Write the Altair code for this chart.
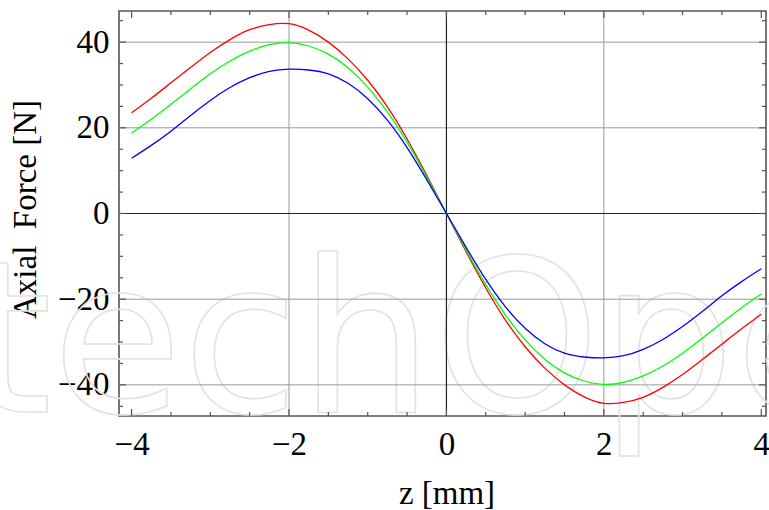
import altair as alt
import pandas as pd

# ---- data ----
z = [-4.0, -3.75, -3.5, -3.25, -3.0, -2.75, -2.5, -2.25, -2.0, -1.75, -1.5, -1.25,
     -1.0, -0.75, -0.5, -0.25, 0.0, 0.25, 0.5, 0.75, 1.0, 1.25, 1.5, 1.75,
     2.0, 2.25, 2.5, 2.75, 3.0, 3.25, 3.5, 3.75, 4.0]
red = [23.5, 26.9, 30.5, 34.1, 37.6, 40.6, 42.9, 44.1, 44.3, 42.8, 40.0, 36.1,
       31.1, 24.9, 17.4, 8.9, 0.0, -8.9, -17.4, -24.9, -31.1, -36.1, -40.0, -42.8,
       -44.3, -44.1, -42.9, -40.6, -37.6, -34.1, -30.5, -26.9, -23.5]
green = [18.8, 22.0, 25.5, 29.1, 32.6, 35.6, 37.9, 39.4, 39.9, 39.1, 37.2, 34.0,
         29.5, 23.7, 16.6, 8.5, 0.0, -8.5, -16.6, -23.7, -29.5, -34.0, -37.2, -39.1,
         -39.9, -39.4, -37.9, -35.6, -32.6, -29.1, -25.5, -22.0, -18.8]
blue = [12.9, 15.9, 19.2, 22.9, 26.4, 29.4, 31.7, 33.2, 33.7, 33.5, 32.6, 30.4,
        26.8, 21.8, 15.4, 7.9, 0.0, -7.9, -15.4, -21.8, -26.8, -30.4, -32.6, -33.5,
        -33.7, -33.2, -31.7, -29.4, -26.4, -22.9, -19.2, -15.9, -12.9]

series_names = ["blue", "green", "red"]
series_colors = ["#0000ff", "#00ff00", "#ff0000"]

x_labels = [-4, -2, 0, 2, 4]
y_labels = [-40, -20, 0, 20, 40]
x_grid = [-2, 2]
y_grid = [-40, -20, 20, 40]
zero_line = [0]
x_minor = [-3.5, -3, -2.5, -1.5, -1, -0.5, 0.5, 1, 1.5, 2.5, 3, 3.5]
y_minor = [-45, -35, -30, -25, -15, -10, -5, 5, 10, 15, 25, 30, 35, 45]

x_title = "z [mm]"
y_title = "Axial\u00a0 Force [N]"
watermark = "techOpen"

# ---- layout ----
W, H = 647, 405
XDOM = [-4.16, 4.06]
YDOM = [-47.27, 47.27]
FONT = "Liberation Serif"
MAJ, MIN = 7, 4
FRAME = "#555555"

xs = alt.Scale(domain=XDOM, nice=False, zero=False)
ys = alt.Scale(domain=YDOM, nice=False, zero=False)

XAX = alt.Axis(values=x_labels, title=x_title, grid=False, ticks=False,
               domain=False, labelFont=FONT, labelFontSize=33,
               labelColor="black", labelPadding=12, format="d",
               titleFont=FONT, titleFontSize=33, titleFontWeight="normal",
               titleColor="black", titleX=327.5, titleY=87,
               titleAlign="center", titleBaseline="alphabetic")
YAX = alt.Axis(values=y_labels, title=y_title, grid=False, ticks=False,
               domain=False, labelFont=FONT, labelFontSize=33,
               labelColor="black", labelPadding=10, format="d",
               titleFont=FONT, titleFontSize=33, titleFontWeight="normal",
               titleColor="black", titleX=-84, titleY=198, titleAngle=270,
               titleAlign="center", titleBaseline="alphabetic")

def X(f):
    return alt.X(f, scale=xs, axis=XAX, title=x_title)

def Y(f):
    return alt.Y(f, scale=ys, axis=YAX, title=y_title)

rows = []
for name, vals in zip(["red", "green", "blue"], [red, green, blue]):
    for zz, v in zip(z, vals):
        rows.append({"z": zz, "F": v, "series": name})
df = pd.DataFrame(rows)

wm = alt.Chart(pd.DataFrame({"t": [watermark]})).mark_text(
    font="DejaVu Sans", fontSize=212, align="left", baseline="alphabetic",
    fill="transparent", fillOpacity=0, stroke="#e2e2e2", strokeWidth=1.6
).encode(text="t:N", x=alt.value(-150), y=alt.value(401))

xgrid = alt.Chart(pd.DataFrame({"v": x_grid})).mark_rule(
    color="#999999", strokeWidth=1).encode(x=X("v:Q"))
ygrid = alt.Chart(pd.DataFrame({"v": y_grid})).mark_rule(
    color="#999999", strokeWidth=1).encode(y=Y("v:Q"))
x0 = alt.Chart(pd.DataFrame({"v": zero_line})).mark_rule(
    color="#222222", strokeWidth=1.2).encode(x=X("v:Q"))
y0 = alt.Chart(pd.DataFrame({"v": zero_line})).mark_rule(
    color="#222222", strokeWidth=1.2).encode(y=Y("v:Q"))

def xticks(vals, ln):
    d = pd.DataFrame({"v": vals})
    b = alt.Chart(d).mark_rule(color=FRAME, strokeWidth=1.2).encode(
        x=X("v:Q"), y=alt.value(H), y2=alt.value(H - ln))
    t = alt.Chart(d).mark_rule(color=FRAME, strokeWidth=1.2).encode(
        x=X("v:Q"), y=alt.value(0), y2=alt.value(ln))
    return [b, t]

def yticks(vals, ln):
    d = pd.DataFrame({"v": vals})
    l = alt.Chart(d).mark_rule(color=FRAME, strokeWidth=1.2).encode(
        y=Y("v:Q"), x=alt.value(0), x2=alt.value(ln))
    r = alt.Chart(d).mark_rule(color=FRAME, strokeWidth=1.2).encode(
        y=Y("v:Q"), x=alt.value(W), x2=alt.value(W - ln))
    return [l, r]

lines = alt.Chart(df).mark_line(strokeWidth=1.3, interpolate="natural").encode(
    x=X("z:Q"),
    y=Y("F:Q"),
    color=alt.Color("series:N", scale=alt.Scale(domain=series_names, range=series_colors),
                    legend=None),
)

layers = [wm, xgrid, ygrid, x0, y0] + xticks(x_labels, MAJ) + xticks(x_minor, MIN) \
    + yticks(y_labels, MAJ) + yticks(y_minor, MIN) + [lines]

chart = alt.layer(*layers).properties(
    width=W, height=H,
    autosize=alt.AutoSizeParams(type="none"),
    padding={"left": 119, "top": 11, "right": 3, "bottom": 94},
    background="white",
).configure_view(stroke=FRAME, strokeWidth=1.6)

chart.save("out.html", embed_options={"renderer": "svg", "actions": False})
